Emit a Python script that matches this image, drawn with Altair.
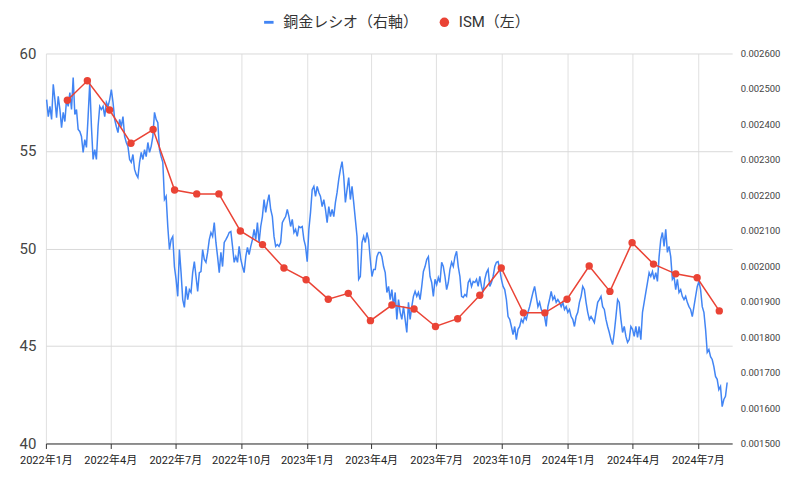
import altair as alt
import pandas as pd

# Copper/gold ratio, in units of 1e-6, Jan 2022 - Aug 2024
ratio_2022h1 = [2470, 2422, 2451, 2414, 2513, 2470, 2419, 2479, 2442, 2391, 2434, 2408, 2470, 2451, 2490, 2442, 2532, 2428, 2442, 2386,
                2380, 2366, 2321, 2357, 2335, 2422, 2518, 2394, 2301, 2329, 2301, 2394, 2451, 2442, 2451, 2422, 2462, 2451, 2470, 2498,
                2462, 2414, 2394, 2377, 2414, 2394, 2422, 2366, 2349, 2338, 2301, 2293, 2315, 2273, 2259, 2250, 2293, 2321, 2301, 2329,
                2309, 2349, 2321, 2338, 2366, 2434, 2414, 2405]
ratio_2022h2 = [2329, 2309, 2293, 2188, 2197, 2112, 2047, 2075, 2084, 1999, 1963, 1915, 2047, 1982, 1906, 1884, 1943, 1906, 1934, 1926,
                1982, 2013, 1971, 1929, 1982, 1985, 2047, 2019, 2011, 2039, 2075, 2095, 2084, 2123, 2067, 2027, 1982, 2039, 1999, 2067,
                2075, 2084, 2095, 2098, 2056, 2011, 2027, 2011, 2056, 2019, 1999, 1982, 2027, 2053, 2033, 2056, 2075, 2104, 2075, 2123,
                2067, 2112, 2140, 2188, 2152, 2180, 2202, 2160, 2140, 2084, 2056, 2061]
ratio_2023h1 = [2056, 2067, 2123, 2132, 2140, 2160, 2140, 2112, 2132, 2095, 2104, 2084, 2112, 2109, 2112, 2075, 2056, 2013, 2104, 2152,
                2216, 2225, 2197, 2225, 2208, 2197, 2168, 2188, 2160, 2123, 2168, 2140, 2160, 2140, 2180, 2208, 2245, 2273, 2295, 2253,
                2180, 2216, 2250, 2188, 2225, 2180, 2132, 2084, 1963, 1971, 2067, 2084, 2067, 2095, 2075, 2019, 1971, 1991, 1991, 2027,
                2039, 2039, 2027, 1999, 1982, 1926, 1943, 1906, 1934, 1886, 1926, 1850]
ratio_2023h2 = [1906, 1870, 1850, 1886, 1850, 1813, 1898, 1850, 1886, 1915, 1929, 1915, 1926, 1906, 1943, 1985, 1999, 2019, 2027, 1971,
                1954, 1915, 1963, 1948, 1968, 1954, 2011, 1999, 1971, 1934, 1954, 1991, 2011, 1999, 2027, 2042, 1999, 1971, 1915, 1912,
                1920, 1915, 1954, 1963, 1943, 1957, 1954, 1963, 1943, 1971, 1943, 1926, 1963, 1982, 1991, 1943, 1954, 1971, 1999, 2011,
                2013, 1991, 1963, 1943, 1934, 1906, 1858, 1850, 1830, 1807, 1830, 1793, 1822, 1830, 1850, 1841, 1858, 1850]
ratio_2024a = [1870, 1886, 1906, 1926, 1943, 1915, 1886, 1898, 1878, 1870, 1858, 1830, 1886, 1906, 1929, 1906, 1915, 1898, 1906, 1898,
               1886, 1898, 1878, 1886, 1870, 1878, 1858, 1850, 1830, 1858, 1870, 1898, 1915, 1943, 1934, 1898, 1870, 1850, 1858, 1850,
               1841, 1870, 1898, 1906, 1915, 1886, 1878, 1850, 1830, 1813, 1793, 1779, 1813, 1858, 1906, 1898, 1850, 1813, 1830, 1802]
ratio_2024b = [1785, 1793, 1830, 1822, 1802, 1830, 1799, 1830, 1793, 1870, 1898, 1926, 1954, 1982, 1971, 1985, 1963, 1982, 1957, 2027,
               2075, 2095, 2056, 2104, 2039, 2056, 2027, 1963, 1971, 1934, 1963, 1926, 1934, 1915, 1906, 1915, 1898, 1886, 1878, 1858,
               1886, 1915, 1943, 1957, 1934, 1886, 1870, 1822, 1757, 1765, 1745, 1737, 1717, 1689, 1681, 1652, 1661, 1604, 1624, 1633,
               1672]
ratio_micro = ratio_2022h1 + ratio_2022h2 + ratio_2023h1 + ratio_2023h2 + ratio_2024a + ratio_2024b
ratio_values = [v / 1e6 for v in ratio_micro]
ratio_dates = pd.date_range("2022-01-02", "2024-08-11", periods=len(ratio_values))

# ISM manufacturing index, monthly
ism_months = ["2022-01", "2022-02", "2022-03", "2022-04", "2022-05", "2022-06", "2022-07", "2022-08", "2022-09", "2022-10",
              "2022-11", "2022-12", "2023-01", "2023-02", "2023-03", "2023-04", "2023-05", "2023-06", "2023-07", "2023-08",
              "2023-09", "2023-10", "2023-11", "2023-12", "2024-01", "2024-02", "2024-03", "2024-04", "2024-05", "2024-06",
              "2024-07"]
ism_values = [57.6, 58.6, 57.1, 55.4, 56.1, 53.0, 52.8, 52.8, 50.9, 50.2,
              49.0, 48.4, 47.4, 47.7, 46.3, 47.1, 46.9, 46.0, 46.4, 47.6,
              49.0, 46.7, 46.7, 47.4, 49.1, 47.8, 50.3, 49.2, 48.7, 48.5,
              46.8]
ism_dates = pd.to_datetime(ism_months) + pd.offsets.MonthEnd(0)

left_ticks = [40, 45, 50, 55, 60]
right_ticks = [0.0015, 0.0016, 0.0017, 0.0018, 0.0019, 0.0020, 0.0021, 0.0022, 0.0023, 0.0024, 0.0025, 0.0026]
x_tick_months = [(2022, 1), (2022, 4), (2022, 7), (2022, 10), (2023, 1), (2023, 4), (2023, 7), (2023, 10),
                 (2024, 1), (2024, 4), (2024, 7)]

NAME_RATIO = "銅金レシオ（右軸）"
NAME_ISM = "ISM（左）"
BLUE = "#4285F4"
RED = "#EA4335"

df_ratio = pd.DataFrame({"date": ratio_dates, "ratio": ratio_values})
df_ism = pd.DataFrame({"date": ism_dates, "ism": ism_values, "series": NAME_ISM})

x_enc = alt.X(
    "date:T",
    title=None,
    scale=alt.Scale(domain=[alt.DateTime(year=2022, month=1, date=1), alt.DateTime(year=2024, month=8, date=18)], nice=False),
    axis=alt.Axis(
        values=[alt.DateTime(year=y, month=m, date=1) for y, m in x_tick_months],
        format="%Y年%-m月",
        labelFontSize=11, labelColor="#222", labelPadding=6, labelFlush=False,
        grid=True, gridColor="#e0e0e0",
        domain=True, domainColor="#333", ticks=True, tickColor="#333", tickSize=5,
        labelOverlap=False,
    ),
)

y_left = alt.Y(
    "ism:Q", title=None,
    scale=alt.Scale(domain=[40, 60], nice=False, zero=False),
    axis=alt.Axis(orient="left", values=left_ticks, grid=True, gridColor="#d9d9d9", ticks=False, domain=False,
                  labelFontSize=15, labelColor="#444", labelPadding=10),
)

y_right = alt.Y(
    "ratio:Q", title=None,
    scale=alt.Scale(domain=[0.0015, 0.0026], nice=False, zero=False),
    axis=alt.Axis(orient="right", values=right_ticks, format=".6f", grid=False, ticks=False, domain=False,
                  labelFontSize=9.5, labelColor="#444", labelPadding=8),
)

legend = alt.Legend(orient="none", legendX=216, legendY=-39, direction="horizontal", title=None,
                    labelFontSize=15, labelColor="#333", symbolSize=90, labelOffset=7, columnPadding=18,
                    padding=0, symbolStrokeWidth=0)

blue_line = alt.Chart(df_ratio).mark_line(color=BLUE, strokeWidth=1.5).encode(x=x_enc, y=y_right)

red_line = alt.Chart(df_ism).mark_line(color=RED, strokeWidth=1.5).encode(x=x_enc, y=y_left)
red_pts = alt.Chart(df_ism).mark_point(filled=True, size=55, opacity=1).encode(
    x=x_enc, y=y_left,
    color=alt.Color("series:N", title=None,
                    scale=alt.Scale(domain=[NAME_RATIO, NAME_ISM], range=[BLUE, RED]), legend=legend),
    shape=alt.Shape("series:N", title=None,
                    scale=alt.Scale(domain=[NAME_RATIO, NAME_ISM], range=["M-1,-0.3H1V0.3H-1Z", "circle"]), legend=legend),
)

chart = alt.layer(blue_line, alt.layer(red_line, red_pts)).resolve_scale(y="independent").properties(
    width=688, height=391,
    autosize=alt.AutoSizeParams(type="none"),
    padding={"left": 38, "top": 45, "right": 60, "bottom": 30},
).configure(font="Roboto, 'Noto Sans CJK JP', sans-serif").configure_view(stroke=None)

chart.save("out.html", embed_options={"renderer": "svg", "actions": False})
